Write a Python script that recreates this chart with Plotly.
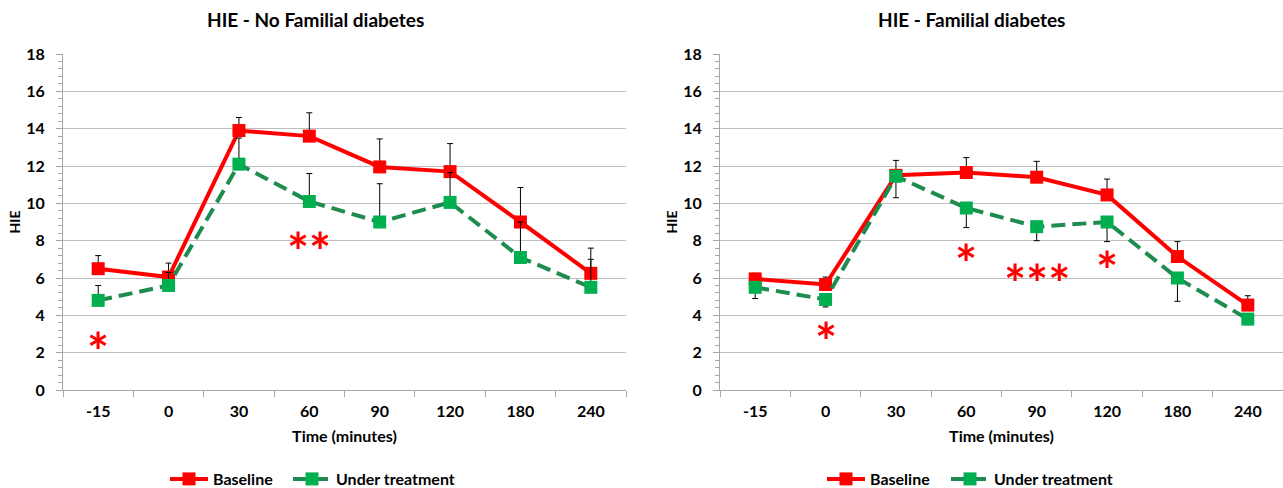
import plotly.graph_objects as go

categories = ["-15", "0", "30", "60", "90", "120", "180", "240"]

# Left panel: No Familial diabetes
left_baseline = [6.5, 6.05, 13.9, 13.6, 11.95, 11.7, 9.0, 6.25]
left_baseline_err = [0.7, 0.75, 0.7, 1.25, 1.5, 1.5, 1.85, 1.35]
left_treat = [4.8, 5.6, 12.1, 10.1, 9.0, 10.05, 7.1, 5.5]
left_treat_err = [0.8, 0.7, 1.4, 1.5, 2.05, 1.6, 1.9, 1.5]

# Right panel: Familial diabetes
right_baseline = [5.95, 5.65, 11.5, 11.65, 11.4, 10.45, 7.15, 4.55]
right_baseline_err = [0.3, 0.4, 0.8, 0.8, 0.85, 0.85, 0.8, 0.5]
right_treat = [5.5, 4.85, 11.45, 9.75, 8.75, 9.0, 6.0, 3.8]
right_treat_err = [0.6, 0.4, 1.15, 1.05, 0.75, 1.05, 1.25, 0.3]

# Significance marks (category, y position, text)
left_marks = [("-15", 2.5, "*"), ("60", 7.9, "**")]
right_marks = [("0", 3.05, "*"), ("60", 7.25, "*"), ("90", 6.15, "***"), ("120", 6.85, "*")]

titles = ["HIE - No Familial diabetes", "HIE - Familial diabetes"]
x_title = "Time (minutes)"
y_title = "HIE"
y_ticks = [0, 2, 4, 6, 8, 10, 12, 14, 16, 18]

RED = "#FF0000"
GREEN_M = "#00B050"
GREEN_L = "#1E8C4E"
FONT = "Lato"
AXC = "#A6A6A6"

fig = go.Figure()

def add_series(xa, ya, base, berr, treat, terr, green_down, leg_b, leg_t):
    fig.add_trace(go.Scatter(
        x=categories, y=base, name="Baseline", mode="lines+markers",
        xaxis=xa, yaxis=ya, legend=leg_b, showlegend=True,
        line=dict(color=RED, width=4),
        marker=dict(symbol="square", size=13, color=RED),
        error_y=dict(type="data", symmetric=False, array=berr,
                     arrayminus=[0] * len(berr), color="black",
                     thickness=1, width=3),
    ))
    fig.add_trace(go.Scatter(
        x=categories, y=treat, name="Under treatment", mode="lines+markers",
        xaxis=xa, yaxis=ya, legend=leg_t, showlegend=True,
        line=dict(color=GREEN_L, width=4, dash="14px,7px"),
        marker=dict(symbol="square", size=13, color=GREEN_M),
        error_y=dict(type="data", symmetric=False,
                     array=[0] * len(terr) if green_down else terr,
                     arrayminus=terr if green_down else [0] * len(terr),
                     color="black", thickness=1, width=3),
    ))

add_series("x", "y", left_baseline, left_baseline_err, left_treat, left_treat_err, False, "legend", "legend2")
add_series("x2", "y2", right_baseline, right_baseline_err, right_treat, right_treat_err, True, "legend3", "legend4")

bold16 = dict(family=FONT, size=16, color="black", weight="bold")

xcommon = dict(type="category", categoryorder="array", categoryarray=categories,
               range=[-0.5, 7.5], tickson="boundaries", ticks="outside", ticklen=6,
               tickcolor=AXC, showline=True, linecolor=AXC, linewidth=1,
               showgrid=False, tickfont=bold16, ticklabelstandoff=7,
               title=dict(text=x_title, font=bold16, standoff=11),
               zeroline=False, automargin=False)
ycommon = dict(range=[0, 18], tickvals=y_ticks, ticks="outside", ticklen=6,
               tickcolor=AXC, showline=True, linecolor=AXC, linewidth=1,
               showgrid=True, gridcolor="#BFBFBF", gridwidth=1, zeroline=False,
               tickfont=bold16, ticklabelstandoff=8,
               minor=dict(dtick=0.4, ticks="outside", ticklen=4, tickcolor=AXC, showgrid=False),
               title=dict(text=y_title, font=dict(family=FONT, size=14, color="black", weight="bold"), standoff=2),
               automargin=False, fixedrange=True)

W, H = 1283, 488
T, B = 54, 98
PH = H - T - B
L1, R1 = 63 / W, 626 / W
L2, R2 = 720 / W, 1.0

leg_common = dict(orientation="h", yanchor="middle", y=-(479 - 390) / PH, xanchor="left",
                  font=bold16, bgcolor="rgba(0,0,0,0)", itemwidth=38, tracegroupgap=0)

fig.update_layout(
    width=W, height=H,
    margin=dict(l=0, r=0, t=T, b=B, autoexpand=False),
    paper_bgcolor="white", plot_bgcolor="white",
    font=dict(family=FONT, color="black"),
    xaxis=dict(domain=[L1, R1], anchor="y", **xcommon),
    yaxis=dict(domain=[0, 1], anchor="x", **ycommon),
    xaxis2=dict(domain=[L2, R2], anchor="y2", **xcommon),
    yaxis2=dict(domain=[0, 1], anchor="x2", **ycommon),
    legend=dict(x=165 / W, **leg_common),
    legend2=dict(x=288 / W, **leg_common),
    legend3=dict(x=822 / W, **leg_common),
    legend4=dict(x=946 / W, **leg_common),
    showlegend=True,
)

annotations = []
for i, t in enumerate(titles):
    cx = (315 if i == 0 else 971) / W
    annotations.append(dict(text=t, x=cx, xref="paper", xanchor="center",
                            y=1 + (T - 20) / PH, yref="paper",
                            yanchor="middle", showarrow=False,
                            font=dict(family=FONT, size=19, color="black", weight="bold")))

for (cat, yv, txt) in left_marks:
    annotations.append(dict(text=txt, x=categories.index(cat), y=yv, xref="x", yref="y",
                            showarrow=False, yanchor="middle", yshift=-8,
                            font=dict(family=FONT, size=52, color=RED, weight="bold")))
for (cat, yv, txt) in right_marks:
    annotations.append(dict(text=txt, x=categories.index(cat), y=yv, xref="x2", yref="y2",
                            showarrow=False, yanchor="middle", yshift=-8,
                            font=dict(family=FONT, size=52, color=RED, weight="bold")))
fig.update_layout(annotations=annotations)

fig.write_html("out.html", config={"displayModeBar": False},
               post_script="document.body.style.margin='0';")
